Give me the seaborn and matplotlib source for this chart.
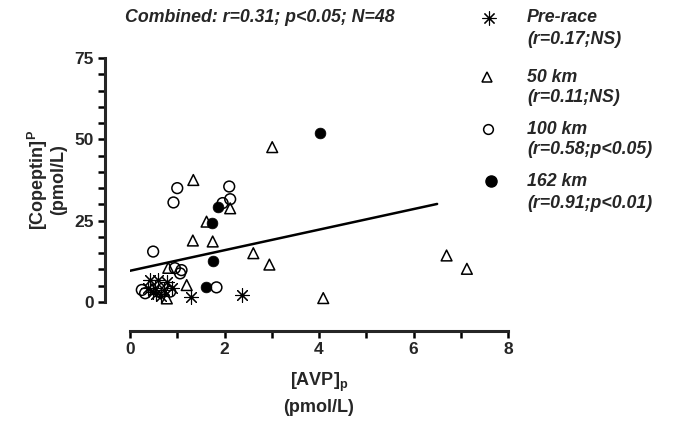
import numpy as np
import pandas as pd
import seaborn as sns
import matplotlib
matplotlib.use('Agg')
import matplotlib.pyplot as plt
from matplotlib.lines import Line2D
from matplotlib.ticker import MultipleLocator

# ---- data ----
pre_x = [0.42, 0.60, 0.78, 0.39, 0.53, 0.71, 0.88, 0.55, 0.65, 0.48, 1.30, 2.36]
pre_y = [6.8, 6.8, 6.2, 4.2, 4.2, 3.7, 4.2, 2.5, 1.8, 3.0, 1.6, 2.2]

km50_x = [3.01, 1.34, 2.12, 1.62, 1.33, 1.75, 2.61, 2.95, 6.70, 7.13, 4.09, 1.20, 0.78, 0.81]
km50_y = [47.6, 37.5, 28.8, 24.7, 18.9, 18.6, 15.0, 11.5, 14.3, 10.2, 1.2, 5.2, 1.1, 10.5]

km100_x = [1.00, 0.92, 2.10, 2.12, 1.96, 0.49, 0.95, 1.09, 1.06, 1.83, 0.25, 0.32, 0.85]
km100_y = [35.0, 30.6, 35.5, 31.6, 30.4, 15.5, 10.4, 9.8, 8.8, 4.5, 3.7, 2.7, 3.2]

km162_x = [4.02, 1.87, 1.73, 1.75, 1.60]
km162_y = [51.9, 29.3, 24.4, 12.6, 4.7]

fit_x = [0.0, 6.5]
fit_intercept = 9.6
fit_slope = 3.16

group_names = ["Pre-race", "50 km", "100 km", "162 km"]
group_stats = ["(r=0.17;NS)", "(r=0.11;NS)", "(r=0.58;p<0.05)", "(r=0.91;p<0.01)"]
title_text = "Combined: r=0.31; p<0.05; N=48"
x_ticks = [0, 2, 4, 6, 8]
y_ticks = [0, 25, 50, 75]

# ---- style ----
sns.set_style('ticks')
plt.rcParams['font.family'] = ['Liberation Sans', 'DejaVu Sans']
plt.rcParams['font.weight'] = 'bold'
plt.rcParams['mathtext.fontset'] = 'custom'
plt.rcParams['mathtext.rm'] = 'Liberation Sans:bold'
plt.rcParams['mathtext.bf'] = 'Liberation Sans:bold'
plt.rcParams['mathtext.it'] = 'Liberation Sans:bold:italic'

W, H = 680, 426
fig = plt.figure(figsize=(W / 100, H / 100), dpi=100)
ax = fig.add_axes([130 / W, 1 - 302 / H, 378 / W, 244 / H])

frames = {
    "pre": pd.DataFrame({"x": pre_x, "y": pre_y}),
    "k50": pd.DataFrame({"x": km50_x, "y": km50_y}),
    "k100": pd.DataFrame({"x": km100_x, "y": km100_y}),
    "k162": pd.DataFrame({"x": km162_x, "y": km162_y}),
}

sns.scatterplot(data=frames["k50"], x="x", y="y", ax=ax, marker='^', s=60,
                color='black', facecolor='none', edgecolor='black', linewidth=1.1,
                clip_on=False, zorder=3)
sns.scatterplot(data=frames["k100"], x="x", y="y", ax=ax, marker='o', s=60,
                color='black', facecolor='none', edgecolor='black', linewidth=1.1,
                clip_on=False, zorder=3)
sns.scatterplot(data=frames["pre"], x="x", y="y", ax=ax, marker=(8, 2, 0), s=100,
                color='black', linewidth=0.8, clip_on=False, zorder=3)
sns.scatterplot(data=frames["k162"], x="x", y="y", ax=ax, marker='o', s=60,
                color='black', edgecolor='black', linewidth=0.5, clip_on=False, zorder=4)

fx = np.array(fit_x)
sns.lineplot(x=fx, y=fit_intercept + fit_slope * fx, ax=ax, color='black',
             linewidth=1.8, zorder=2)

ax.set_xlim(0, 8)
ax.set_ylim(0, 75)
ax.set_xticks(x_ticks)
ax.set_yticks(y_ticks)
ax.xaxis.set_minor_locator(MultipleLocator(1))
ax.yaxis.set_minor_locator(MultipleLocator(5))
for s in ['top', 'right']:
    ax.spines[s].set_visible(False)
ax.spines['left'].set_position(('outward', 18))
ax.spines['bottom'].set_position(('outward', 21))
for s in ['left', 'bottom']:
    ax.spines[s].set_linewidth(2.2)
ax.tick_params(which='both', direction='out', width=1.8, length=5, color='black')
ax.tick_params(which='major', labelsize=12.5, pad=3)
for lab in ax.get_xticklabels() + ax.get_yticklabels():
    lab.set_fontweight('bold')

ax.set_xlabel("[AVP]$_\\mathbf{p}$\n(pmol/L)", fontsize=13, fontweight='bold',
              linespacing=1.35, labelpad=10)
ax.set_ylabel("[Copeptin]$^\\mathbf{P}$\n(pmol/L)", fontsize=13, fontweight='bold',
              linespacing=1.05, labelpad=5)

# title
fig.text(125 / W, 1 - 18 / H, title_text, fontsize=12.8, fontweight='bold',
         style='italic', ha='left', va='center')

# legend (manual)
leg_markers = [
    dict(marker=(8, 2, 0), markersize=10, color='black', markeredgewidth=0.8, markerfacecolor='none'),
    dict(marker='^', markersize=7, color='black', markerfacecolor='none', markeredgewidth=1.1),
    dict(marker='o', markersize=7, color='black', markerfacecolor='none', markeredgewidth=1.1),
    dict(marker='o', markersize=8, color='black', markerfacecolor='black'),
]
line1_y = [18, 77, 129, 181]
line2_y = [40, 97, 150, 203]
marker_x = [489, 487, 488, 491]
for i in range(4):
    fig.add_artist(Line2D([marker_x[i] / W], [1 - line1_y[i] / H], transform=fig.transFigure,
                          linestyle='none', **leg_markers[i]))
    fig.text(527 / W, 1 - line1_y[i] / H, group_names[i], fontsize=12.8, fontweight='bold',
             style='italic', ha='left', va='center')
    fig.text(527 / W, 1 - line2_y[i] / H, group_stats[i], fontsize=12.8, fontweight='bold',
             style='italic', ha='left', va='center')

fig.savefig('out.png', dpi=100)
